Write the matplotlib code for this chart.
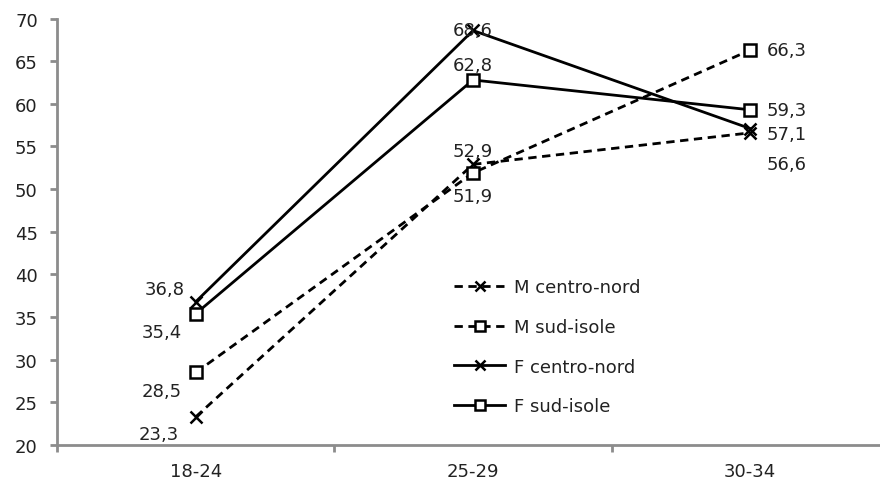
import matplotlib.pyplot as plt

categories = ['18-24', '25-29', '30-34']
m_centro_nord = [23.3, 52.9, 56.6]
m_sud_isole = [28.5, 51.9, 66.3]
f_centro_nord = [36.8, 68.6, 57.1]
f_sud_isole = [35.4, 62.8, 59.3]

plt.rcParams['font.family'] = ['DejaVu Sans']
plt.rcParams['font.size'] = 13

fig, ax = plt.subplots(figsize=(8.8, 4.89), dpi=100)
fig.subplots_adjust(left=0.065, right=1.01, top=0.96, bottom=0.088)

x = [0.5, 1.5, 2.5]
series = [
    (m_centro_nord, 'M centro-nord', '--', 'x'),
    (m_sud_isole, 'M sud-isole', '--', 's'),
    (f_centro_nord, 'F centro-nord', '-', 'x'),
    (f_sud_isole, 'F sud-isole', '-', 's'),
]
for vals, name, ls, mk in series:
    ax.plot(x, vals, linestyle=ls, marker=mk, color='black', lw=2,
            markersize=9, markerfacecolor='white',
            markeredgewidth=1.8, dashes=(3, 2) if ls == '--' else (None, None),
            label=name)

def fmt(v):
    return f'{v:.1f}'.replace('.', ',')

# value labels: (series, index, dx points, dy points, ha, va)
placements = [
    (f_centro_nord, 0, -8, 3, 'right', 'bottom'),
    (f_sud_isole, 0, -10, -7, 'right', 'top'),
    (m_sud_isole, 0, -10, -7, 'right', 'top'),
    (m_centro_nord, 0, -12, -6, 'right', 'top'),
    (f_centro_nord, 1, 0, -6, 'center', 'bottom'),
    (f_sud_isole, 1, 0, 4, 'center', 'bottom'),
    (m_centro_nord, 1, 0, 3, 'center', 'bottom'),
    (m_sud_isole, 1, 0, -10, 'center', 'top'),
    (m_sud_isole, 2, 12, 0, 'left', 'center'),
    (f_sud_isole, 2, 12, 0, 'left', 'center'),
    (f_centro_nord, 2, 12, -4, 'left', 'center'),
    (m_centro_nord, 2, 12, -16, 'left', 'top'),
]
for vals, i, dx, dy, ha, va in placements:
    ax.annotate(fmt(vals[i]), (x[i], vals[i]), xytext=(dx, dy),
                textcoords='offset points', ha=ha, va=va, color='#222222')

ax.set_xlim(0, 3)
ax.set_ylim(20, 70)
ax.set_yticks(range(20, 71, 5))
ax.set_xticks([0, 1, 2, 3])
ax.set_xticklabels([])
ax.set_xticks(x, minor=True)
ax.set_xticklabels(categories, minor=True)
ax.tick_params(axis='x', which='minor', length=0, pad=12)
ax.tick_params(axis='x', which='major', length=5, color='#8c8c8c', width=2)
ax.tick_params(axis='y', length=5, color='#8c8c8c', width=2, pad=9,
               labelcolor='#222222')
ax.tick_params(axis='x', which='minor', labelcolor='#222222')
for s in ['top', 'right']:
    ax.spines[s].set_visible(False)
for s in ['left', 'bottom']:
    ax.spines[s].set_color('#8c8c8c')
    ax.spines[s].set_linewidth(2)

leg = ax.legend(loc='center left', bbox_to_anchor=(0.469, 0.23), frameon=False,
                handlelength=2.8, labelspacing=1.2, handletextpad=0.5,
                borderaxespad=0, markerscale=0.8)
for t in leg.get_texts():
    t.set_color('#222222')

fig.savefig('out.png', dpi=100)
